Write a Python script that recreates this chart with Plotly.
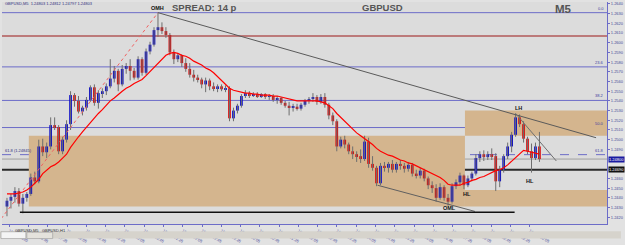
import plotly.graph_objects as go

# ---------------- data (GBPUSD M5) ----------------
opens = [1.2431, 1.2437, 1.2441, 1.2447, 1.2434, 1.2440, 1.2444, 1.2461, 1.2457, 1.2493,
         1.2487, 1.2493, 1.2515, 1.2513, 1.2488, 1.2500, 1.2516, 1.2546, 1.2540, 1.2529,
         1.2533, 1.2541, 1.2554, 1.2538, 1.2548, 1.2550, 1.2555, 1.2563, 1.2571, 1.2557,
         1.2573, 1.2576, 1.2571, 1.2564, 1.2583, 1.2569, 1.2591, 1.2598, 1.2613, 1.2616,
         1.2612, 1.2608, 1.2590, 1.2583, 1.2587, 1.2579, 1.2573, 1.2567, 1.2564, 1.2562,
         1.2557, 1.2561, 1.2555, 1.2553, 1.2555, 1.2552, 1.2553, 1.2522, 1.2530, 1.2535,
         1.2545, 1.2548, 1.2546, 1.2547, 1.2545, 1.2547, 1.2544, 1.2545, 1.2541, 1.2543,
         1.2538, 1.2535, 1.2533, 1.2534, 1.2532, 1.2536, 1.2540, 1.2542, 1.2544, 1.2539,
         1.2544, 1.2536, 1.2525, 1.2519, 1.2493, 1.2500, 1.2495, 1.2488, 1.2485, 1.2483,
         1.2480, 1.2498, 1.2475, 1.2471, 1.2455, 1.2473, 1.2471, 1.2475, 1.2469, 1.2475,
         1.2473, 1.2470, 1.2474, 1.2465, 1.2463, 1.2468, 1.2460, 1.2453, 1.2450, 1.2440,
         1.2451, 1.2440, 1.2436, 1.2452, 1.2456, 1.2463, 1.2453, 1.2460, 1.2465, 1.2481,
         1.2485, 1.2482, 1.2485, 1.2483, 1.2457, 1.2469, 1.2483, 1.2493, 1.2505, 1.2523,
         1.2516, 1.2501, 1.2488, 1.2481, 1.2493]
highs = [1.2440, 1.2444, 1.2451, 1.2450, 1.2444, 1.2446, 1.2465, 1.2467, 1.2500, 1.2501,
         1.2497, 1.2523, 1.2523, 1.2515, 1.2503, 1.2520, 1.2550, 1.2548, 1.2545, 1.2535,
         1.2544, 1.2556, 1.2557, 1.2551, 1.2553, 1.2558, 1.2583, 1.2576, 1.2573, 1.2577,
         1.2579, 1.2583, 1.2574, 1.2586, 1.2585, 1.2594, 1.2601, 1.2616, 1.2631, 1.2621,
         1.2616, 1.2610, 1.2593, 1.2589, 1.2588, 1.2584, 1.2579, 1.2572, 1.2567, 1.2564,
         1.2564, 1.2563, 1.2559, 1.2557, 1.2557, 1.2556, 1.2555, 1.2533, 1.2537, 1.2547,
         1.2551, 1.2550, 1.2549, 1.2549, 1.2548, 1.2548, 1.2547, 1.2547, 1.2545, 1.2544,
         1.2540, 1.2539, 1.2537, 1.2537, 1.2538, 1.2542, 1.2544, 1.2548, 1.2546, 1.2547,
         1.2548, 1.2538, 1.2528, 1.2521, 1.2503, 1.2504, 1.2497, 1.2493, 1.2488, 1.2490,
         1.2504, 1.2502, 1.2483, 1.2473, 1.2476, 1.2477, 1.2477, 1.2479, 1.2477, 1.2479,
         1.2476, 1.2477, 1.2476, 1.2469, 1.2471, 1.2470, 1.2462, 1.2457, 1.2454, 1.2455,
         1.2453, 1.2444, 1.2455, 1.2459, 1.2466, 1.2464, 1.2463, 1.2467, 1.2485, 1.2488,
         1.2489, 1.2488, 1.2491, 1.2486, 1.2473, 1.2485, 1.2497, 1.2508, 1.2527, 1.2526,
         1.2519, 1.2503, 1.2496, 1.2497, 1.2508]
lows = [1.2421, 1.2429, 1.2435, 1.2431, 1.2424, 1.2436, 1.2442, 1.2454, 1.2455, 1.2483,
        1.2481, 1.2490, 1.2510, 1.2485, 1.2485, 1.2497, 1.2510, 1.2534, 1.2527, 1.2525,
        1.2530, 1.2539, 1.2535, 1.2532, 1.2543, 1.2546, 1.2553, 1.2559, 1.2550, 1.2555,
        1.2568, 1.2561, 1.2562, 1.2562, 1.2566, 1.2567, 1.2588, 1.2596, 1.2606, 1.2609,
        1.2605, 1.2587, 1.2578, 1.2580, 1.2575, 1.2570, 1.2564, 1.2560, 1.2559, 1.2553,
        1.2549, 1.2551, 1.2550, 1.2549, 1.2550, 1.2549, 1.2519, 1.2519, 1.2527, 1.2533,
        1.2543, 1.2543, 1.2544, 1.2543, 1.2543, 1.2542, 1.2541, 1.2539, 1.2537, 1.2536,
        1.2533, 1.2525, 1.2529, 1.2530, 1.2530, 1.2534, 1.2537, 1.2539, 1.2536, 1.2537,
        1.2533, 1.2521, 1.2515, 1.2488, 1.2491, 1.2491, 1.2485, 1.2480, 1.2477, 1.2476,
        1.2478, 1.2471, 1.2468, 1.2452, 1.2453, 1.2467, 1.2466, 1.2466, 1.2466, 1.2469,
        1.2466, 1.2467, 1.2462, 1.2460, 1.2460, 1.2457, 1.2449, 1.2445, 1.2436, 1.2438,
        1.2437, 1.2432, 1.2434, 1.2449, 1.2453, 1.2449, 1.2451, 1.2457, 1.2463, 1.2477,
        1.2478, 1.2479, 1.2479, 1.2447, 1.2451, 1.2466, 1.2480, 1.2487, 1.2503, 1.2513,
        1.2497, 1.2485, 1.2466, 1.2479, 1.2477]
closes = [1.2437, 1.2441, 1.2447, 1.2434, 1.2440, 1.2444, 1.2461, 1.2457, 1.2493, 1.2487,
          1.2493, 1.2515, 1.2513, 1.2488, 1.2500, 1.2516, 1.2546, 1.2540, 1.2529, 1.2533,
          1.2541, 1.2554, 1.2538, 1.2548, 1.2550, 1.2555, 1.2563, 1.2571, 1.2557, 1.2573,
          1.2576, 1.2571, 1.2564, 1.2583, 1.2569, 1.2591, 1.2598, 1.2613, 1.2616, 1.2612,
          1.2608, 1.2590, 1.2583, 1.2587, 1.2579, 1.2573, 1.2567, 1.2564, 1.2562, 1.2557,
          1.2561, 1.2555, 1.2553, 1.2555, 1.2552, 1.2553, 1.2522, 1.2530, 1.2535, 1.2545,
          1.2548, 1.2546, 1.2547, 1.2545, 1.2547, 1.2544, 1.2545, 1.2541, 1.2543, 1.2538,
          1.2535, 1.2533, 1.2534, 1.2532, 1.2536, 1.2540, 1.2542, 1.2544, 1.2539, 1.2544,
          1.2536, 1.2525, 1.2519, 1.2493, 1.2500, 1.2495, 1.2488, 1.2485, 1.2483, 1.2480,
          1.2498, 1.2475, 1.2471, 1.2455, 1.2473, 1.2471, 1.2475, 1.2469, 1.2475, 1.2473,
          1.2470, 1.2474, 1.2465, 1.2463, 1.2468, 1.2460, 1.2453, 1.2450, 1.2440, 1.2451,
          1.2440, 1.2436, 1.2452, 1.2456, 1.2463, 1.2453, 1.2460, 1.2465, 1.2481, 1.2485,
          1.2482, 1.2485, 1.2483, 1.2457, 1.2469, 1.2483, 1.2493, 1.2505, 1.2523, 1.2516,
          1.2501, 1.2488, 1.2481, 1.2493, 1.2480]
ma_values = [1.2444, 1.2444, 1.2444, 1.2445, 1.2446, 1.2448, 1.2451, 1.2455, 1.2459, 1.2465,
             1.2469, 1.2472, 1.2474, 1.2477, 1.2481, 1.2485, 1.2492, 1.2498, 1.2503, 1.2508,
             1.2513, 1.2518, 1.2523, 1.2527, 1.2531, 1.2536, 1.2540, 1.2543, 1.2547, 1.2550,
             1.2553, 1.2555, 1.2558, 1.2560, 1.2562, 1.2566, 1.2570, 1.2574, 1.2578, 1.2582,
             1.2587, 1.2589, 1.2590, 1.2589, 1.2587, 1.2586, 1.2584, 1.2581, 1.2579, 1.2577,
             1.2574, 1.2572, 1.2569, 1.2565, 1.2560, 1.2556, 1.2553, 1.2551, 1.2550, 1.2549,
             1.2548, 1.2548, 1.2547, 1.2547, 1.2546, 1.2546, 1.2546, 1.2545, 1.2545, 1.2544,
             1.2543, 1.2542, 1.2541, 1.2540, 1.2540, 1.2540, 1.2540, 1.2540, 1.2540, 1.2539,
             1.2538, 1.2535, 1.2532, 1.2527, 1.2523, 1.2518, 1.2514, 1.2510, 1.2507, 1.2504,
             1.2501, 1.2498, 1.2495, 1.2491, 1.2488, 1.2486, 1.2484, 1.2483, 1.2481, 1.2479,
             1.2478, 1.2476, 1.2475, 1.2473, 1.2471, 1.2469, 1.2467, 1.2465, 1.2463, 1.2461,
             1.2458, 1.2454, 1.2453, 1.2453, 1.2453, 1.2455, 1.2456, 1.2458, 1.2459, 1.2461,
             1.2462, 1.2464, 1.2466, 1.2468, 1.2469, 1.2471, 1.2474, 1.2478, 1.2482, 1.2486,
             1.2489, 1.2488, 1.2487, 1.2486, 1.2485]

time_labels = ["15 Apr 2020", "15 Apr 16:45", "15 Apr 17:25", "15 Apr 18:05", "15 Apr 18:45",
               "15 Apr 19:25", "15 Apr 20:05", "15 Apr 20:45", "15 Apr 21:25", "15 Apr 22:05",
               "15 Apr 22:45", "15 Apr 23:25", "16 Apr 00:05", "16 Apr 00:45", "16 Apr 01:25",
               "16 Apr 02:05", "16 Apr 02:45", "16 Apr 03:25", "16 Apr 04:05", "16 Apr 04:45",
               "16 Apr 05:25", "16 Apr 06:05", "16 Apr 06:45", "16 Apr 07:25", "16 Apr 08:05",
               "16 Apr 08:45", "16 Apr 09:25", "16 Apr 10:05"]

# price-axis labels (the two covered by the price boxes are left out)
price_ticks = [1.2420, 1.2430, 1.2440, 1.2450, 1.2460, 1.2490, 1.2500, 1.2510, 1.2520,
               1.2530, 1.2540, 1.2550, 1.2560, 1.2570, 1.2580, 1.2590, 1.2600, 1.2610,
               1.2620, 1.2630, 1.2640]

# Fibonacci tool (anchors) and its ratios
fib_high = 1.2631
fib_low = 1.2394
fib_low_bar = -6
fib_high_bar = 38
fib_ratios = [0.0, 23.6, 38.2, 50.0, 61.8]

red_level = 1.2607
black_level = 1.2469
bid_price = 1.2480
support_level = 1.2425
support_bars = [3.25, 127.75]

# zones: [bar_from, bar_to, price_low, price_high]
zones = [[5.5, 115.25, 1.2431, 1.2504],
         [115.25, 151, 1.2504, 1.2530],
         [115.25, 151, 1.2431, 1.2448]]

# trend lines: [bar0, price0, bar1, price1]
trend_main = [38, 1.2631, 148.25, 1.2502]
trend_lh = [128, 1.2527, 138.25, 1.2478]
trend_low = [93.25, 1.2453, 117.75, 1.2426]

# swing labels: [text, bar, price]
swing_labels = [["OMH", 38, 1.2636], ["LH", 128.8, 1.2533], ["HL", 115.8, 1.2444],
                ["HL", 131.5, 1.2457], ["OML", 111.3, 1.2430]]

# ---------------- figure ----------------
W, H = 625, 245
PL, PR, PT, PB = 2, 611, 1, 230
def fx(x):
    return (x - PL) / (PR - PL)
def fy(y):
    return (PB - y) / (PB - PT)

n = len(closes)
idx = list(range(n))
fig = go.Figure()

# wicks
wx, wy = [], []
for i in idx:
    wx += [i, i, None]
    wy += [lows[i], highs[i], None]
fig.add_trace(go.Scatter(x=wx, y=wy, mode="lines", line=dict(color="#6E6E6E", width=1),
                         hoverinfo="skip", showlegend=False))

# bodies
base = [min(o, c) for o, c in zip(opens, closes)]
body = [max(abs(c - o), 0.0001) for o, c in zip(opens, closes)]
cols = ["#0A0AC8" if c >= o else "#D80C0C" for o, c in zip(opens, closes)]
fig.add_trace(go.Bar(x=idx, y=body, base=base, width=0.68,
                     marker=dict(color=cols, line=dict(width=0)), showlegend=False))

# moving average
fig.add_trace(go.Scatter(x=idx, y=ma_values, mode="lines", line=dict(color="#FF0000", width=1.2),
                         showlegend=False))

# fib trend line (red dotted)
fig.add_trace(go.Scatter(x=[fib_low_bar, fib_high_bar], y=[fib_low, fib_high], mode="lines",
                         line=dict(color="#F06060", width=1, dash="dot"), showlegend=False))
# trend lines
for tl, col in [(trend_main, "#5a5a5a"), (trend_lh, "#707070"), (trend_low, "#606060")]:
    fig.add_trace(go.Scatter(x=[tl[0], tl[2]], y=[tl[1], tl[3]], mode="lines",
                             line=dict(color=col, width=1), showlegend=False))

shapes = []
for z in zones:
    shapes.append(dict(type="rect", xref="x", yref="y", x0=z[0], x1=z[1], y0=z[2], y1=z[3],
                       fillcolor="#D4B58E", line=dict(width=0), layer="below"))
annotations = []
for r in fib_ratios:
    lvl = fib_high - r / 100.0 * (fib_high - fib_low)
    shapes.append(dict(type="line", xref="paper", yref="y", x0=0, x1=1, y0=lvl, y1=lvl,
                       line=dict(color="#6C6CC8", width=1, dash="dash" if r > 60 else "solid"),
                       layer="below"))
    annotations.append(dict(text="%.1f" % r, xref="paper", yref="y", x=fx(610), y=lvl,
                            xanchor="right", yanchor="bottom", showarrow=False,
                            font=dict(size=4, color="#4040A0", family="Liberation Sans")))
shapes.append(dict(type="line", xref="paper", yref="y", x0=0, x1=1, y0=red_level, y1=red_level,
                   line=dict(color="#B25A5A", width=1.6), layer="below"))
shapes.append(dict(type="line", xref="paper", yref="y", x0=0, x1=1, y0=bid_price, y1=bid_price,
                   line=dict(color="#A0A0A0", width=1), layer="below"))
shapes.append(dict(type="line", xref="paper", yref="y", x0=0, x1=1, y0=black_level, y1=black_level,
                   line=dict(color="#2A2A2A", width=2), layer="below"))
shapes.append(dict(type="line", xref="x", yref="y", x0=support_bars[0], x1=support_bars[1],
                   y0=support_level, y1=support_level, line=dict(color="#101010", width=1.5)))

# bottom tab bar
shapes.append(dict(type="rect", xref="paper", yref="paper", x0=fx(0), x1=fx(625), y0=fy(237.5), y1=fy(245),
                   fillcolor="#D6D3CC", line=dict(width=0)))
shapes.append(dict(type="rect", xref="paper", yref="paper", x0=fx(1), x1=fx(26), y0=fy(238), y1=fy(245),
                   fillcolor="#F4F4F4", line=dict(color="#9A9A9A", width=0.6)))
shapes.append(dict(type="rect", xref="paper", yref="paper", x0=fx(27), x1=fx(53), y0=fy(238.5), y1=fy(245),
                   fillcolor="#E4E2DC", line=dict(color="#9A9A9A", width=0.6)))
annotations.append(dict(text="GBPUSD,M5", xref="paper", yref="paper", x=fx(13.5), y=fy(241.5),
                        showarrow=False, font=dict(size=4, color="#303030", family="Liberation Sans")))
annotations.append(dict(text="GBPUSD,H1", xref="paper", yref="paper", x=fx(40), y=fy(241.5),
                        showarrow=False, font=dict(size=4, color="#303030", family="Liberation Sans")))

# header texts
hdr = dict(family="Liberation Sans", color="#555555")
annotations.append(dict(text="<b>SPREAD: 14 p</b>", xref="paper", yref="paper", x=fx(171), y=fy(6.5),
                        xanchor="left", yanchor="middle", showarrow=False, font=dict(size=9.5, **hdr)))
annotations.append(dict(text="<b>GBPUSD</b>", xref="paper", yref="paper", x=fx(362), y=fy(6.5),
                        xanchor="left", yanchor="middle", showarrow=False, font=dict(size=9.5, **hdr)))
annotations.append(dict(text="<b>M5</b>", xref="paper", yref="paper", x=fx(557), y=fy(8.5),
                        xanchor="left", yanchor="middle", showarrow=False, font=dict(size=11.5, **hdr)))
annotations.append(dict(text="GBPUSD,M5  1.24803 1.24812 1.24797 1.24803", xref="paper", yref="paper",
                        x=fx(3), y=fy(3), xanchor="left", yanchor="middle", showarrow=False,
                        font=dict(size=4, color="#303080", family="Liberation Sans")))
annotations.append(dict(text="61.8 (1.24845)", xref="paper", yref="y", x=fx(3),
                        y=fib_high - 0.618 * (fib_high - fib_low), xanchor="left", yanchor="bottom",
                        showarrow=False, font=dict(size=4, color="#303080", family="Liberation Sans")))
for t, b, p in swing_labels:
    annotations.append(dict(text="<b>%s</b>" % t, xref="x", yref="y", x=b, y=p, showarrow=False,
                            font=dict(size=5.5, color="#111111", family="Liberation Sans")))
# price boxes on the axis
annotations.append(dict(text="1.24800", xref="paper", yref="y", x=fx(612), y=bid_price,
                        xanchor="left", yanchor="middle", showarrow=False, bgcolor="#1A1AA0",
                        borderpad=0, font=dict(size=4, color="#FFFFFF", family="Liberation Sans")))
annotations.append(dict(text="1.24690", xref="paper", yref="y", x=fx(612), y=black_level,
                        xanchor="left", yanchor="middle", showarrow=False, bgcolor="#101010",
                        borderpad=0, font=dict(size=4, color="#FFFFFF", family="Liberation Sans")))

tick_step = 4.85
tickvals = [0.6 + k * tick_step for k in range(len(time_labels))]

fig.update_layout(
    width=W, height=H, margin=dict(l=PL, r=W - PR, t=PT, b=H - PB, pad=0),
    plot_bgcolor="#DCDCDC", paper_bgcolor="#E2E2E2",
    barmode="overlay", showlegend=False, shapes=shapes, annotations=annotations,
    xaxis=dict(range=[-1.25, 151], showgrid=False, zeroline=False, showline=True,
               linecolor="#6C6CC8", linewidth=1, tickvals=tickvals, ticktext=time_labels,
               ticks="outside", ticklen=2, tickcolor="#6C6CC8",
               tickfont=dict(size=4, color="#4A4A9A", family="Liberation Sans")),
    yaxis=dict(range=[1.2413, 1.2642], side="right", showgrid=False, zeroline=False,
               showline=True, linecolor="#6C6CC8", linewidth=1, tickvals=price_ticks,
               tickformat=".4f", ticks="outside", ticklen=2, tickcolor="#6C6CC8",
               tickfont=dict(size=4, color="#4A4A9A", family="Liberation Sans")),
)
fig.write_html("out.html")
